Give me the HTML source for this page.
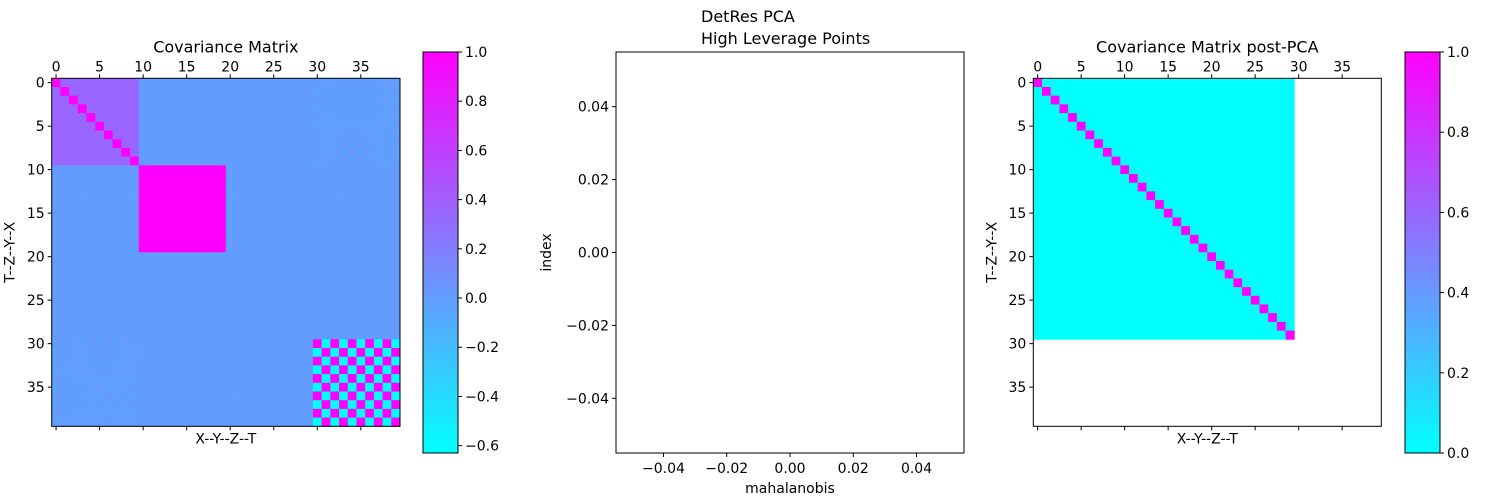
<!DOCTYPE html>
<html><head><meta charset="utf-8">
<style>
html,body{margin:0;padding:0;background:#fff;}
svg{display:block;font-family:"DejaVu Sans","Liberation Sans",sans-serif;}
</style></head>
<body>
<svg id="fig" width="1500" height="500" viewBox="0 0 1500 500" xmlns="http://www.w3.org/2000/svg">
<defs>
<linearGradient id="coolgrad" x1="0" y1="1" x2="0" y2="0">
<stop offset="0" stop-color="rgb(0,255,255)"/><stop offset="1" stop-color="rgb(255,0,255)"/>
</linearGradient>
</defs>
<text x="701" y="22" text-anchor="start" font-size="16">DetRes PCA</text>
</svg>
<script>
// ---- data ----
const N = 40;
const leftVmin = -0.63, leftVmax = 1.0;
const blockAValue = 0.35;     // rows/cols 0-9 off-diagonal
const blockBValue = 1.0;      // rows/cols 10-19
const checkerHigh = 1.0, checkerLow = -0.63; // rows/cols 30-39
const offCheckerHigh = 0.01, offCheckerLow = -0.02; // faint pattern
const backgroundValue = 0.0;
const rightSize = 30;
const rightDiag = 1.0, rightOff = 0.0;
const leftCbTicks = [1.0, 0.8, 0.6, 0.4, 0.2, 0.0, -0.2, -0.4, -0.6];
const rightCbTicks = [1.0, 0.8, 0.6, 0.4, 0.2, 0.0];
const matTicks = [0, 5, 10, 15, 20, 25, 30, 35];
const midXTicks = [-0.04, -0.02, 0.00, 0.02, 0.04];
const midYTicks = [0.04, 0.02, 0.00, -0.02, -0.04];
const midRange = [-0.055, 0.055];

const FS = 14, TFS = 16;
const svg = document.getElementById('fig');
const NS = 'http://www.w3.org/2000/svg';
function mk(tag, attrs, parent){const e=document.createElementNS(NS,tag);for(const k in attrs)e.setAttribute(k,attrs[k]);(parent||svg).appendChild(e);return e;}
function cool(t){t=Math.max(0,Math.min(1,t));return `rgb(${Math.round(255*t)},${Math.round(255*(1-t))},255)`;}

function leftVal(i,j){
  if(i<10&&j<10) return i===j?1:blockAValue;
  if(i>=10&&i<20&&j>=10&&j<20) return blockBValue;
  if(i>=30&&j>=30) return (i+j)%2===0?checkerHigh:checkerLow;
  if((i>=30&&j<10)||(i<10&&j>=30)) return (i+j)%2===0?offCheckerHigh:offCheckerLow;
  return backgroundValue;
}
function rightVal(i,j){
  if(i<rightSize&&j<rightSize) return i===j?rightDiag:rightOff;
  return null;
}

function drawMatrix(x0,y0,w,h,valFn,vmin,vmax,title,name){
  const g=mk('g',{});
  
  
  const cw=w/N, ch=h/N;
  for(let i=0;i<N;i++)for(let j=0;j<N;j++){
    const v=valFn(i,j); if(v===null) continue;
    const r=mk('rect',{x:(x0+j*cw).toFixed(2),y:(y0+i*ch).toFixed(2),width:(cw+0.4).toFixed(2),height:(ch+0.4).toFixed(2),fill:cool((v-vmin)/(vmax-vmin))},g);
    
    
  }
  const f=mk('rect',{x:x0,y:y0,width:w,height:h,fill:'none',stroke:'#000','stroke-width':1},g);
  
  
  matTicks.forEach(t=>{
    const x=x0+(t+0.5)*cw, y=y0+(t+0.5)*ch;
    mk('line',{x1:x,y1:y0,x2:x,y2:y0-4,stroke:'#000'},g);
    mk('line',{x1:x,y1:y0+h,x2:x,y2:y0+h+4,stroke:'#000'},g);
    mk('line',{x1:x0,y1:y,x2:x0-4,y2:y,stroke:'#000'},g);
    const tx=mk('text',{x:x,y:y0-7,'text-anchor':'middle','font-size':FS},g); tx.textContent=t;
    
    
    const ty=mk('text',{x:x0-7,y:y+5,'text-anchor':'end','font-size':FS},g); ty.textContent=t;
    
    
  });
  const tt=mk('text',{x:x0+w/2,y:y0-26,'text-anchor':'middle','font-size':TFS},g); tt.textContent=title;
  
  
  const xl=mk('text',{x:x0+w/2,y:y0+h+17,'text-anchor':'middle','font-size':FS},g); xl.textContent='X--Y--Z--T';
  
  
  const yl=mk('text',{x:0,y:0,'text-anchor':'middle','font-size':FS,transform:`translate(${x0-37},${y0+h/2}) rotate(-90)`},g); yl.textContent='T--Z--Y--X';
  
  
}

function drawColorbar(x0,y0,w,h,vmin,vmax,ticks,name){
  const g=mk('g',{});
  
  
  mk('rect',{x:x0,y:y0,width:w,height:h,fill:'url(#coolgrad)',stroke:'#000','stroke-width':1},g);
  ticks.forEach(t=>{
    const y=y0+h-(t-vmin)/(vmax-vmin)*h;
    mk('line',{x1:x0+w,y1:y,x2:x0+w+4,y2:y,stroke:'#000'},g);
    const tx=mk('text',{x:x0+w+7,y:y+5,'font-size':FS},g);
    tx.textContent=t.toFixed(1).replace('-','\u2212');
    
    
  });
}

drawMatrix(51.7,78.3,348.3,348,leftVal,leftVmin,leftVmax,'Covariance Matrix','covariance-matrix');
drawColorbar(423,52,35,401,leftVmin,leftVmax,leftCbTicks,'left-colorbar');
drawMatrix(1033.3,78.3,348,348,rightVal,0,1,'Covariance Matrix post-PCA','covariance-matrix-post-pca');
drawColorbar(1405,52,35,401,0,1,rightCbTicks,'right-colorbar');

// middle empty scatter
(function(){
  const x0=616,y0=52,w=348,h=401;
  const g=mk('g',{});
  
  
  const sx=v=>x0+(v-midRange[0])/(midRange[1]-midRange[0])*w;
  const sy=v=>y0+h-(v-midRange[0])/(midRange[1]-midRange[0])*h;
  mk('rect',{x:x0,y:y0,width:w,height:h,fill:'none',stroke:'#000'},g);
  midXTicks.forEach(t=>{
    const x=sx(t);
    mk('line',{x1:x,y1:y0+h,x2:x,y2:y0+h+4,stroke:'#000'},g);
    const tx=mk('text',{x:x,y:y0+h+20,'text-anchor':'middle','font-size':FS},g);
    tx.textContent=t.toFixed(2).replace('-','\u2212');
    
    
  });
  midYTicks.forEach(t=>{
    const y=sy(t);
    mk('line',{x1:x0,y1:y,x2:x0-4,y2:y,stroke:'#000'},g);
    const tx=mk('text',{x:x0-7,y:y+5,'text-anchor':'end','font-size':FS},g);
    tx.textContent=t.toFixed(2).replace('-','\u2212');
    
    
  });
  const tt=mk('text',{x:701,y:y0-8,'text-anchor':'start','font-size':TFS},g); tt.textContent='High Leverage Points';
  
  
  const xl=mk('text',{x:x0+w/2,y:y0+h+40,'text-anchor':'middle','font-size':FS},g); xl.textContent='mahalanobis';
  
  
  const yl=mk('text',{x:0,y:0,'text-anchor':'middle','font-size':FS,transform:`translate(${x0-65},${y0+h/2}) rotate(-90)`},g); yl.textContent='index';
  
  
})();
</script>
</body></html>
